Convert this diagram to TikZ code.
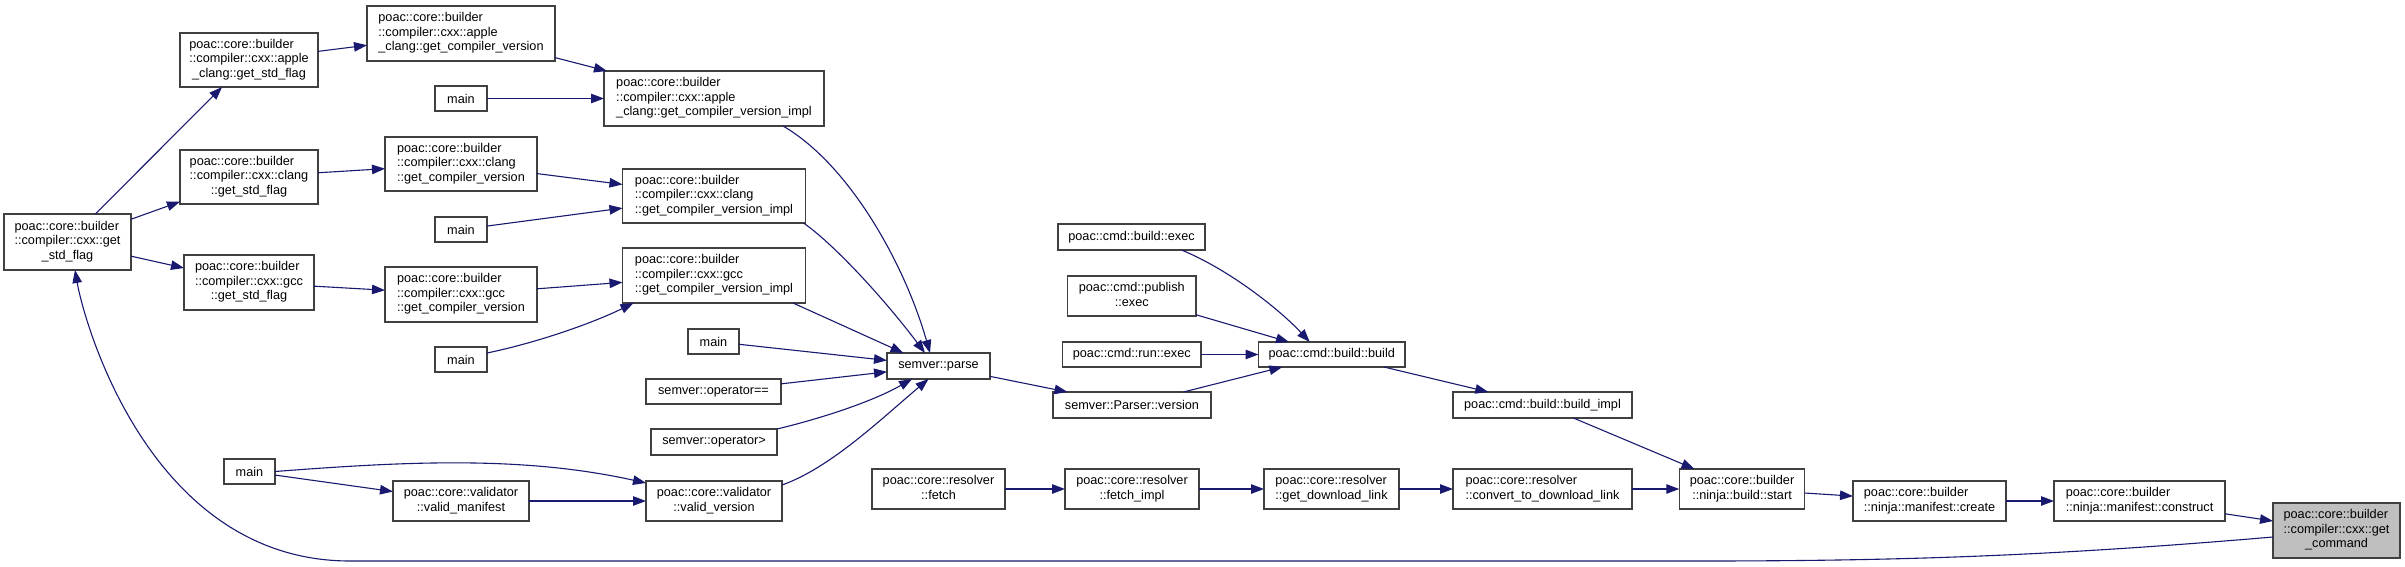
\documentclass[tikz,border=0pt]{standalone}
\usepackage{fontspec}
\setmainfont{Liberation Sans}
\usetikzlibrary{arrows.meta,calc}
\definecolor{edgeblue}{HTML}{191970}
\definecolor{boxline}{HTML}{404040}
\definecolor{selfill}{HTML}{BFBFBF}
\newcommand{\twol}[2]{\begin{tabular}{@{}l@{}}#1\\\multicolumn{1}{@{}c@{}}{#2}\end{tabular}}
\newcommand{\threel}[3]{\begin{tabular}{@{}l@{}}#1\\#2\\\multicolumn{1}{@{}c@{}}{#3}\end{tabular}}
\tikzset{
  fn/.style={draw=boxline, line width=1.2pt, fill=white, inner sep=0pt, outer sep=0pt,
    font=\fontsize{12.7}{14.5}\selectfont, align=center},
  sz/.style 2 args={minimum width=#1pt, minimum height=#2pt},
  sel/.style={fill=selfill},
  call/.style={draw=edgeblue, line width=1.1pt, -{Triangle[length=13pt,width=9.5pt]}},
}
\begin{document}
\begin{tikzpicture}[x=1pt,y=-1pt]
\fill[white] (0,0) rectangle (2405,567);
\useasboundingbox (0,0) rectangle (2405,567);

% column 1
\node[fn,sz={127}{56}] (gsf) at (67.5,242) {\threel{poac::core::builder}{::compiler::cxx::get}{\_std\_flag}};
% column 2
\node[fn,sz={138}{54}] (agsf) at (249,60) {\threel{poac::core::builder}{::compiler::cxx::apple}{\_clang::get\_std\_flag}};
\node[fn,sz={138}{54}] (cgsf) at (249,177) {\threel{poac::core::builder}{::compiler::cxx::clang}{::get\_std\_flag}};
\node[fn,sz={130}{55}] (ggsf) at (249,282.5) {\threel{poac::core::builder}{::compiler::cxx::gcc}{::get\_std\_flag}};
\node[fn,sz={51}{25}] (mainD) at (249.5,471.5) {main};
% column 3
\node[fn,sz={188}{55}] (agcv) at (461,33.5) {\threel{poac::core::builder}{::compiler::cxx::apple}{\_clang::get\_compiler\_version}};
\node[fn,sz={52}{25}] (mainA) at (461,98.5) {main};
\node[fn,sz={152}{54}] (cgcv) at (461,164) {\threel{poac::core::builder}{::compiler::cxx::clang}{::get\_compiler\_version}};
\node[fn,sz={52}{25}] (mainB) at (461,229.5) {main};
\node[fn,sz={152}{55}] (ggcv) at (461,294.5) {\threel{poac::core::builder}{::compiler::cxx::gcc}{::get\_compiler\_version}};
\node[fn,sz={52}{25}] (mainC) at (461,359.5) {main};
\node[fn,sz={136}{40}] (vman) at (461,501) {\twol{poac::core::validator}{::valid\_manifest}};
% column 4
\node[fn,sz={220}{55}] (aimpl) at (714,98.5) {\threel{poac::core::builder}{::compiler::cxx::apple}{\_clang::get\_compiler\_version\_impl}};
\node[fn,sz={183}{54}] (cimpl) at (714,196) {\threel{poac::core::builder}{::compiler::cxx::clang}{::get\_compiler\_version\_impl}};
\node[fn,sz={183}{55}] (gimpl) at (714,275.5) {\threel{poac::core::builder}{::compiler::cxx::gcc}{::get\_compiler\_version\_impl}};
\node[fn,sz={51}{25}] (mainE) at (713.5,341.5) {main};
\node[fn,sz={135}{25}] (opeq) at (713.5,391.5) {semver::operator==};
\node[fn,sz={126}{26}] (opgt) at (714,442) {semver::operator>};
\node[fn,sz={136}{40}] (vver) at (714,501) {\twol{poac::core::validator}{::valid\_version}};
% column 5
\node[fn,sz={103}{26}] (parse) at (938.5,366) {semver::parse};
\node[fn,sz={133}{40}] (fetch) at (938.5,489) {\twol{poac::core::resolver}{::fetch}};
% column 6
\node[fn,sz={147}{26}] (bexec) at (1131.5,237) {poac::cmd::build::exec};
\node[fn,sz={128.5}{40}] (pexec) at (1131.75,296) {\twol{poac::cmd::publish}{::exec}};
\node[fn,sz={138.5}{25}] (rexec) at (1131.75,354.5) {poac::cmd::run::exec};
\node[fn,sz={158}{26}] (pver) at (1132,405) {semver::Parser::version};
\node[fn,sz={134}{40}] (fimpl) at (1132,489) {\twol{poac::core::resolver}{::fetch\_impl}};
% column 7
\node[fn,sz={146.5}{25}] (bbuild) at (1331.75,354.5) {poac::cmd::build::build};
\node[fn,sz={135}{40}] (gdl) at (1331.5,489) {\twol{poac::core::resolver}{::get\_download\_link}};
% column 8
\node[fn,sz={179}{26}] (bimpl) at (1542.5,405) {poac::cmd::build::build\_impl};
\node[fn,sz={179}{40}] (conv) at (1542.5,489) {\twol{poac::core::resolver}{::convert\_to\_download\_link}};
% column 9-12
\node[fn,sz={125.5}{40}] (start) at (1742,489) {\twol{poac::core::builder}{::ninja::build::start}};
\node[fn,sz={153}{40}] (create) at (1929.5,501) {\twol{poac::core::builder}{::ninja::manifest::create}};
\node[fn,sz={171}{40}] (constr) at (2139.5,501) {\twol{poac::core::builder}{::ninja::manifest::construct}};
\node[fn,sel,sz={127}{55}] (getcmd) at (2336.5,530.5) {\threel{poac::core::builder}{::compiler::cxx::get}{\_command}};

% edges
\draw[call] (gsf) -- (agsf);
\draw[call] (gsf) -- (cgsf);
\draw[call] (gsf) -- (ggsf);
\draw[call] (agsf) -- (agcv);
\draw[call] (cgsf) -- (cgcv);
\draw[call] (ggsf) -- (ggcv);
\draw[call] (agcv) -- (aimpl);
\draw[call] (mainA) -- (aimpl);
\draw[call] (cgcv) -- (cimpl);
\draw[call] (mainB) -- (cimpl);
\draw[call] (ggcv) -- (gimpl);
\draw[call] ([yshift=6.5pt]mainC.east) .. controls (540,342) and (595,322) .. ([xshift=11pt]gimpl.south west);
\draw[call] ([xshift=69pt]aimpl.south) .. controls (850,165) and (905,265) .. ([xshift=-8.5pt]parse.north);
\draw[call] ([xshift=-2pt]cimpl.south east) .. controls (835,245) and (885,300) .. ([xshift=-13.5pt]parse.north);
\draw[call] ([xshift=79pt]gimpl.south) -- ([xshift=-35pt]parse.north);
\draw[call] (mainE) -- (parse);
\draw[call] (opeq) -- (parse);
\draw[call] (opgt.north east) .. controls (815,420) and (870,403) .. ([xshift=-26.5pt]parse.south);
\draw[call] ([yshift=-4pt]vver.north east) .. controls (830,468) and (880,420) .. ([xshift=-10pt]parse.south);
\draw[call] (mainD.east) .. controls (400,462) and (520,455) .. ([yshift=-2pt]vver.north west);
\draw[call] (mainD) -- (vman);
\draw[call] (vman) -- (vver);
\draw[call] (parse) -- (pver);
\draw[call] ([xshift=50pt]bexec.south) .. controls (1230,270) and (1280,310) .. ([xshift=-22pt]bbuild.north);
\draw[call] (pexec) -- (bbuild);
\draw[call] (rexec) -- (bbuild);
\draw[call] (pver) -- (bbuild);
\draw[call] (bbuild) -- (bimpl);
\draw[call] (bimpl) -- (start);
\draw[call] (fetch) -- (fimpl);
\draw[call] (fimpl) -- (gdl);
\draw[call] (gdl) -- (conv);
\draw[call] (conv) -- (start);
\draw[call] (start) -- (create);
\draw[call] (create) -- (constr);
\draw[call] (constr) -- (getcmd);
\draw[call] ([yshift=-6.5pt]getcmd.west) .. controls (2050,556) and (1900,561) .. (1700,561)
   -- (350,561) .. controls (150,561) and (84,322) .. ([xshift=7.5pt]gsf.south);
\end{tikzpicture}
\end{document}
